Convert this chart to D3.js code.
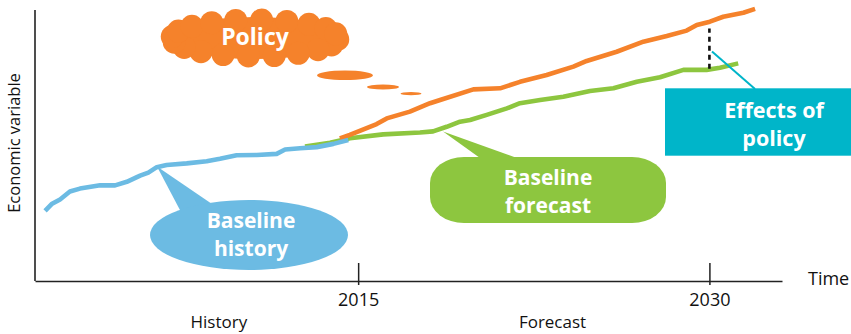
<!DOCTYPE html>
<html>
<head>
<meta charset="utf-8">
<script src="https://cdn.jsdelivr.net/npm/d3@7"></script>
<style>
  html, body { margin: 0; padding: 0; background: #fff; }
  svg { display: block; }
  text { font-family: "Open Sans", "Lato", sans-serif; }
</style>
</head>
<body>
<svg id="chart" width="851" height="334"></svg>
<script>
// Baseline history (blue)
const historyYears  = [2001.63, 2001.91, 2002.27, 2002.69, 2003.12, 2003.98, 2004.62, 2005.12, 2005.69, 2006.04, 2006.40, 2006.82, 2007.68, 2008.53, 2009.10, 2009.81, 2010.67, 2011.52, 2011.88, 2012.52, 2013.23, 2013.94, 2014.58];
const historyValues = [25.9, 28.4, 30.1, 33.0, 34.1, 35.3, 35.3, 36.6, 38.9, 40.0, 42.0, 42.8, 43.4, 44.2, 45.1, 46.4, 46.5, 46.9, 48.5, 49.0, 49.4, 50.6, 52.0];

// Baseline forecast (green)
const baselineYears  = [2012.73, 2013.80, 2014.65, 2016.07, 2017.64, 2018.20, 2018.78, 2019.35, 2019.78, 2020.49, 2020.92, 2021.35, 2021.91, 2022.77, 2023.76, 2024.90, 2025.90, 2026.90, 2027.89, 2028.89, 2029.88, 2030.45, 2031.23];
const baselineValues = [49.6, 51.0, 52.7, 54.1, 54.8, 55.2, 56.9, 58.8, 59.4, 61.3, 62.5, 63.7, 65.6, 66.8, 68.0, 70.1, 71.1, 73.5, 75.2, 77.9, 77.9, 78.7, 80.3];

// Forecast with policy (orange)
const policyYears  = [2014.22, 2014.64, 2015.79, 2016.22, 2017.21, 2018.07, 2018.50, 2019.92, 2021.06, 2021.91, 2023.05, 2024.19, 2024.76, 2026.04, 2027.18, 2028.18, 2029.03, 2029.46, 2030.02, 2030.59, 2031.45, 2031.95];
const policyValues = [52.6, 53.9, 57.9, 60.0, 62.5, 65.6, 66.8, 70.7, 71.1, 73.5, 76.0, 79.1, 81.2, 84.6, 88.3, 90.4, 92.4, 94.5, 95.7, 97.5, 99.0, 100.4];

// Axis ticks and period labels
const tickYears   = [2015, 2030];
const tickLabels  = ["2015", "2030"];
const periodNames = ["History", "Forecast"];
const periodYears = [2009.05, 2023.3];

// Gap between policy and baseline at the 2030 horizon
const gapYear   = 2030;
const gapValues = [78.3, 93.2];

const colors = { history: "#6cbbe3", baseline: "#8dc63f", policy: "#f5822b", effect: "#00b5c9", axis: "#222" };

const svg = d3.select("#chart");

const x = d3.scaleLinear().domain([2001.2, 2033.1]).range([35, 782]);
const y = d3.scaleLinear().domain([0, 100]).range([281, 10]);

const zip = (xs, ys) => xs.map((v, i) => [v, ys[i]]);
const line = d3.line().x(d => x(d[0])).y(d => y(d[1]));

// ---- axes ----
svg.append("line")
  .attr("x1", x.range()[0]).attr("x2", x.range()[0])
  .attr("y1", y.range()[1]).attr("y2", y.range()[0])
  .attr("stroke", colors.axis).attr("stroke-width", 1.6);

const xAxis = d3.axisBottom(x)
  .tickValues(tickYears)
  .tickFormat((d, i) => tickLabels[i])
  .tickSizeOuter(0)
  .tickSizeInner(0)
  .tickPadding(12);

const gx = svg.append("g").attr("transform", `translate(0,${y.range()[0]})`).call(xAxis);
gx.select(".domain").attr("stroke", colors.axis).attr("stroke-width", 1.4);
gx.selectAll(".tick line")
  .attr("y1", -18).attr("y2", 4)
  .attr("stroke", colors.axis).attr("stroke-width", 1.5);
gx.selectAll(".tick text")
  .attr("fill", "#111").attr("font-size", 18).attr("font-family", "'Open Sans', sans-serif");

svg.append("text")
  .attr("x", 808).attr("y", 285)
  .attr("font-size", 18).attr("fill", "#111")
  .text("Time");

svg.selectAll("text.period")
  .data(periodNames)
  .join("text")
  .attr("class", "period")
  .attr("x", (d, i) => x(periodYears[i]))
  .attr("y", 328)
  .attr("text-anchor", "middle")
  .attr("font-size", 17).attr("fill", "#111")
  .text(d => d);

svg.append("text")
  .attr("transform", "translate(20,143) rotate(-90)")
  .attr("text-anchor", "middle")
  .attr("font-size", 16.5).attr("fill", "#111")
  .text("Economic variable");

// ---- series ----
const series = [
  { pts: zip(baselineYears, baselineValues), color: colors.baseline },
  { pts: zip(policyYears, policyValues), color: colors.policy },
  { pts: zip(historyYears, historyValues), color: colors.history }
];
svg.selectAll("path.series")
  .data(series)
  .join("path")
  .attr("class", "series")
  .attr("d", d => line(d.pts))
  .attr("fill", "none")
  .attr("stroke", d => d.color)
  .attr("stroke-width", 4.6)
  .attr("stroke-linejoin", "round");

// ---- policy effect marker ----
svg.append("line")
  .attr("x1", x(gapYear)).attr("x2", x(gapYear))
  .attr("y1", y(gapValues[0])).attr("y2", y(gapValues[1]))
  .attr("stroke", "#111").attr("stroke-width", 2.6)
  .attr("stroke-dasharray", "5,4");

svg.append("line")
  .attr("x1", 712).attr("y1", 51.5).attr("x2", 755).attr("y2", 89)
  .attr("stroke", colors.effect).attr("stroke-width", 2);

svg.append("rect")
  .attr("x", 665).attr("y", 88.3).attr("width", 190).attr("height", 67.4)
  .attr("fill", colors.effect);

svg.append("text")
  .attr("text-anchor", "middle")
  .attr("font-size", 21.5).attr("font-weight", 700).attr("fill", "#fff")
  .selectAll("tspan").data(["Effects of", "policy"]).join("tspan")
  .attr("x", 774).attr("y", (d, i) => 118 + i * 28)
  .text(d => d);

// ---- baseline forecast callout ----
svg.append("path")
  .attr("d", `M443,131.5 L480,158 L517,158 Z`)
  .attr("fill", colors.baseline);
svg.append("rect")
  .attr("x", 430).attr("y", 157).attr("width", 236).attr("height", 66)
  .attr("rx", 34).attr("ry", 26)
  .attr("fill", colors.baseline);
svg.append("text")
  .attr("text-anchor", "middle")
  .attr("font-size", 21).attr("font-weight", 700).attr("fill", "#fff")
  .selectAll("tspan").data(["Baseline", "forecast"]).join("tspan")
  .attr("x", 548).attr("y", (d, i) => 185 + i * 28)
  .text(d => d);

// ---- baseline history callout ----
svg.append("path")
  .attr("d", `M157,166.5 L181,212 L212,204 Z`)
  .attr("fill", colors.history);
svg.append("ellipse")
  .attr("cx", 249).attr("cy", 235).attr("rx", 99).attr("ry", 35)
  .attr("fill", colors.history);
svg.append("text")
  .attr("text-anchor", "middle")
  .attr("font-size", 21).attr("font-weight", 700).attr("fill", "#fff")
  .selectAll("tspan").data(["Baseline", "history"]).join("tspan")
  .attr("x", 251).attr("y", (d, i) => 228 + i * 28)
  .text(d => d);

// ---- policy thought cloud ----
const cloud = svg.append("g").attr("fill", colors.policy);
const cx = 255, cy = 38;
cloud.append("ellipse").attr("cx", cx).attr("cy", cy).attr("rx", 86).attr("ry", 21);
const bumps = d3.range(20).map(i => (i / 20) * 2 * Math.PI + 0.08);
cloud.selectAll("circle")
  .data(bumps)
  .join("circle")
  .attr("cx", a => cx + 83 * Math.cos(a))
  .attr("cy", a => cy + 18 * Math.sin(a))
  .attr("r", 11.5);
// trailing puffs
const puffs = [[345, 75.3, 28, 4.8], [383, 87, 16, 2.6], [411, 93.7, 10.5, 1.6]];
cloud.selectAll("ellipse.puff")
  .data(puffs)
  .join("ellipse")
  .attr("class", "puff")
  .attr("cx", d => d[0]).attr("cy", d => d[1]).attr("rx", d => d[2]).attr("ry", d => d[3]);

svg.append("text")
  .attr("x", 255).attr("y", 44.5).attr("text-anchor", "middle")
  .attr("font-size", 23).attr("font-weight", 700).attr("fill", "#fff")
  .text("Policy");
</script>
</body>
</html>
